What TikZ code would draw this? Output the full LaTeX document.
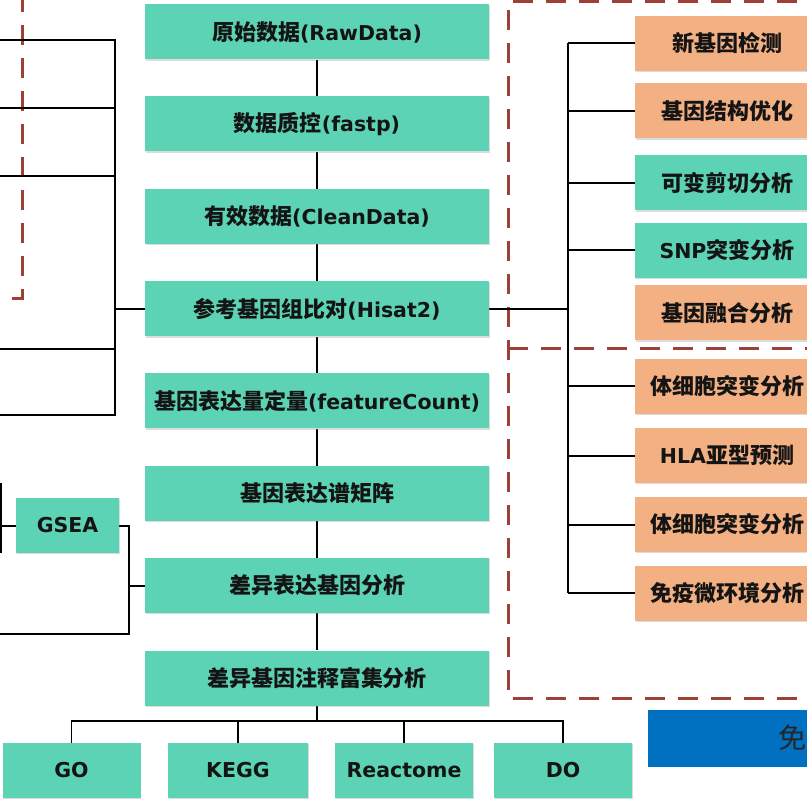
\documentclass[tikz,border=0pt]{standalone}
\usepackage{fontspec}
\setmainfont{DejaVu Sans}
\newfontfamily\cjk{Noto Sans CJK SC}
\usetikzlibrary{shadows}
\definecolor{boxgreen}{RGB}{92,211,181}
\definecolor{boxorange}{RGB}{243,176,131}
\definecolor{dashred}{RGB}{158,64,56}
\definecolor{blueband}{RGB}{0,112,192}
\newcommand{\zh}[1]{{\cjk\fontsize{22}{26}\selectfont #1}}
\pgfdeclarelayer{bg}
\pgfsetlayers{bg,main}
\begin{document}
\begin{tikzpicture}[x=1pt,y=-1pt,
  base/.style={rectangle, inner sep=0pt, text=black!92,
    font=\bfseries\fontsize{20.5}{24}\selectfont,
    drop shadow={shadow xshift=0.7pt,shadow yshift=-1.2pt,opacity=0.28}},
  mainbox/.style={base, fill=boxgreen, minimum width=344pt, minimum height=55pt},
  subbox/.style={base, fill=boxgreen, minimum width=138pt, minimum height=55pt},
  rgreen/.style={base, fill=boxgreen, minimum width=184pt, minimum height=55pt},
  rorange/.style={base, fill=boxorange, minimum width=184pt, minimum height=55pt},
  colline/.style={black, line width=1.5pt},
  sideline/.style={black, line width=2pt},
  dashline/.style={dashred, line width=3pt, dash pattern=on 20pt off 13pt}]
\useasboundingbox (0,0) rectangle (807,805);
\clip (0,0) rectangle (807,805);

% main column
\node[mainbox] (m1) at (317,32) {\zh{原始数据}(RawData)};
\node[mainbox] (m2) at (317,124) {\zh{数据质控}(fastp)};
\node[mainbox] (m3) at (317,216.5) {\zh{有效数据}(CleanData)};
\node[mainbox] (m4) at (317,309) {\zh{参考基因组比对}(Hisat2)};
\node[mainbox] (m5) at (317,401) {\zh{基因表达量定量}(featureCount)};
\node[mainbox] (m6) at (317,493.5) {\zh{基因表达谱矩阵}};
\node[mainbox] (m7) at (317,585.5) {\zh{差异表达基因分析}};
\node[mainbox] (m8) at (317,678) {\zh{差异基因注释富集分析}};

% bottom boxes
\node[subbox] (go) at (71.5,770.5) {GO};
\node[subbox, minimum width=140pt] (kegg) at (238,770.5) {KEGG};
\node[subbox] (reac) at (404,770.5) {Reactome};
\node[subbox] (do) at (563,770.5) {DO};

% GSEA
\node[subbox, minimum width=103pt] (gsea) at (67.5,525.5) {GSEA};

% right boxes
\node[rorange] (r1) at (727,43.5) {\zh{新基因检测}};
\node[rorange] (r2) at (727,111) {\zh{基因结构优化}};
\node[rgreen]  (r3) at (727,183) {\zh{可变剪切分析}};
\node[rgreen]  (r4) at (727,250.5) {SNP\zh{突变分析}};
\node[rorange] (r5) at (727,313) {\zh{基因融合分析}};
\node[rorange] (r6) at (727,386.5) {\zh{体细胞突变分析}};
\node[rorange] (r7) at (727,455.5) {HLA\zh{亚型预测}};
\node[rorange] (r8) at (727,524.5) {\zh{体细胞突变分析}};
\node[rorange] (r9) at (727,593) {\zh{免疫微环境分析}};

% blue band
\node[rectangle, fill=blueband, minimum width=190pt, minimum height=57pt, anchor=west, inner sep=0pt] (band) at (648,738.5) {};
\node[font=\cjk\fontsize{28}{32}\selectfont, text=black!85, inner sep=0pt] (bandtext) at (792,738) {免};

% coordinates
\coordinate (lt) at (115,40);
\coordinate (lb) at (115,415);
\coordinate (l1) at (0,40);
\coordinate (l2) at (0,108);
\coordinate (l3) at (0,176);
\coordinate (l4) at (0,349);
\coordinate (l5) at (0,415);
\coordinate (g1) at (1,483);
\coordinate (g2) at (1,553);
\coordinate (gr) at (129,525.5);
\coordinate (gb) at (129,634);
\coordinate (gl) at (0,634);
\coordinate (rt) at (568,43.5);
\coordinate (rb) at (568,593);
\coordinate (bt) at (317,721);

\begin{pgfonlayer}{bg}
  % dashed frames
  \draw[dashline] (22,-8) -- (22,299) -- (-10,299);
  \draw[dashline] (830,2) -- (508,2) -- (508,698) -- (830,698);
  \draw[dashline] (508,349) -- (830,349);

  % main column connectors
  \draw[colline] (m1) -- (m2);
  \draw[colline] (m2) -- (m3);
  \draw[colline] (m3) -- (m4);
  \draw[colline] (m4) -- (m5);
  \draw[colline] (m5) -- (m6);
  \draw[colline] (m6) -- (m7);
  \draw[colline] (m7) -- (m8);
  \draw[colline] (m8.south) -- (bt);
  \draw[colline] (go.north) |- (bt) -| (do.north);
  \draw[colline] (kegg.north) -- (kegg.north |- bt);
  \draw[colline] (reac.north) -- (reac.north |- bt);

  % left tree
  \draw[sideline] (l1) -- (lt) -- (lb) -- (l5);
  \draw[sideline] (l2) -- (l2 -| lt);
  \draw[sideline] (l3) -- (l3 -| lt);
  \draw[sideline] (l4) -- (l4 -| lt);
  \draw[sideline] (m4.west -| lt) -- (m4.west);

  % GSEA
  \draw[sideline] (g1) -- (g2);
  \draw[sideline] (g1 |- gsea.west) -- (gsea.west);
  \draw[sideline] (gsea.east) -- (gr) -- (gb) -- (gl);
  \draw[sideline] (m7.west -| gr) -- (m7.west);

  % right tree
  \draw[sideline] (m4.east) -- (m4.east -| rt);
  \draw[sideline] (rt) -- (rb);
  \foreach \n in {r1,r2,r3,r4,r6,r7,r8,r9}
    \draw[sideline] (\n.west) -- (\n.west -| rt);
\end{pgfonlayer}
\end{tikzpicture}
\end{document}
